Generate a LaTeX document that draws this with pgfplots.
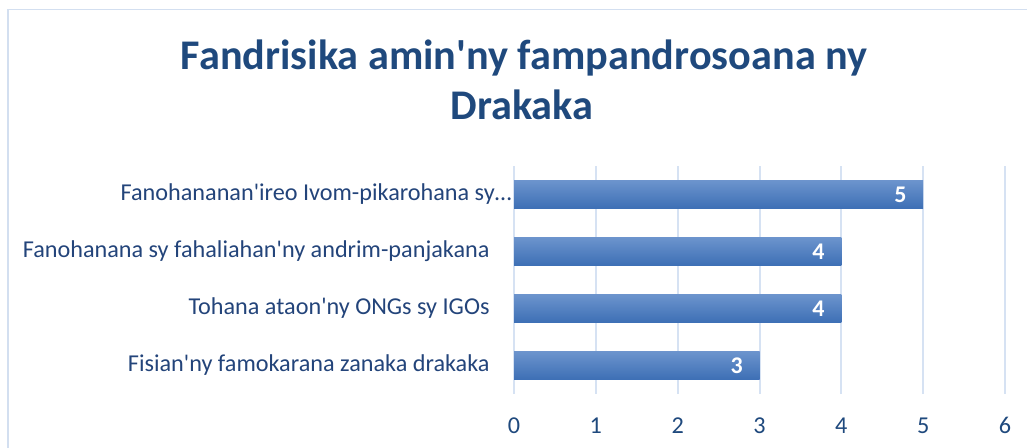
\documentclass[border=0pt]{standalone}
\usepackage{fontspec}
\setmainfont{Carlito}
\usepackage{pgfplots}
\pgfplotsset{compat=1.18}
\definecolor{txtblue}{HTML}{1F497D}
\definecolor{lblblue}{HTML}{23447A}
\definecolor{bartop}{HTML}{6C94CD}
\definecolor{barbot}{HTML}{3D6FB5}
\definecolor{gridcol}{HTML}{D6E2F3}
\definecolor{framecol}{HTML}{D3DFF0}
\newcommand\q{\textquotesingle}
\begin{document}
\begin{tikzpicture}
  \useasboundingbox (0bp,0bp) rectangle (1027bp,448bp);
  \begin{scope}
    \clip (0bp,0bp) rectangle (1027bp,448bp);
    \draw[framecol, line width=1.5bp] (8bp,438.5bp) rectangle (1040bp,-20bp);
  \end{scope}
  % title
  \node[font=\fontsize{42.4}{50}\selectfont\bfseries, text=txtblue, anchor=base]
    at (524bp,378.7bp) {Fandrisika amin\q ny fampandrosoana ny};
  \node[font=\fontsize{42.4}{50}\selectfont\bfseries, text=txtblue, anchor=base]
    at (522bp,328.5bp) {Drakaka};
  \begin{axis}[
      at={(514bp,54bp)}, anchor=south west,
      width=491bp, height=228bp, scale only axis,
      xbar, bar width=28.3bp, bar shift=0pt,
      xmin=0, xmax=6, ymin=0.5, ymax=4.5,
      enlargelimits=false,
      clip=false,
      xtick={0,1,2,3,4,5,6},
      ytick={1,2,3,4},
      yticklabels={{Fisian\q ny famokarana zanaka drakaka},
                   {Tohana ataon\q ny ONGs sy IGOs},
                   {Fanohanana sy fahaliahan\q ny andrim-panjakana},
                   {Fanohananan\q ireo Ivom-pikarohana sy…\hspace*{-22bp}}},
      axis line style={draw=none},
      tick style={draw=none},
      xmajorgrids,
      grid style={gridcol, line width=2bp},
      /pgf/number format/assume math mode=true,
      xticklabel style={font=\fontsize{24.3}{29}\selectfont, text=txtblue,
                        inner sep=0pt, anchor=base, yshift=-39.7bp},
      yticklabel style={font=\fontsize{24.3}{29}\selectfont, text=lblblue,
                        inner sep=0pt, anchor=east, xshift=-20bp},
      nodes near coords,
      every node near coord/.append style={font=\fontsize{24}{29}\selectfont\bfseries,
                        text=white, anchor=east, inner sep=0pt, xshift=-16.6bp},
      every axis plot/.append style={draw=none, top color=bartop, bottom color=barbot},
    ]
    \addplot coordinates {(3,1)};
    \addplot coordinates {(4,2)};
    \addplot coordinates {(4,3)};
    \addplot coordinates {(5,4)};
  \end{axis}
\end{tikzpicture}
\end{document}
